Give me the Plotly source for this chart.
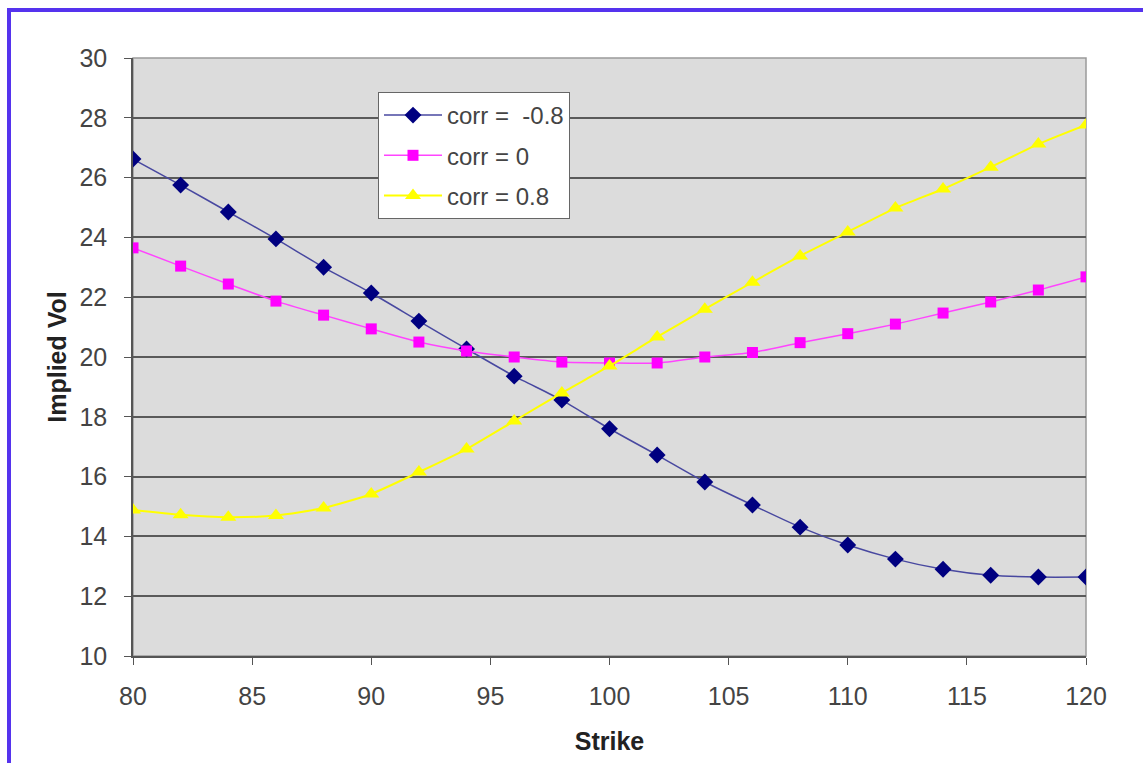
import plotly.graph_objects as go

strikes = [80, 82, 84, 86, 88, 90, 92, 94, 96, 98, 100, 102, 104, 106, 108, 110, 112, 114, 116, 118, 120]
vol_neg = [26.62, 25.75, 24.85, 23.95, 23.0, 22.14, 21.2, 20.27, 19.36, 18.56, 17.6, 16.72, 15.82, 15.05, 14.31, 13.71, 13.24, 12.9, 12.7, 12.64, 12.64]
vol_zero = [23.65, 23.04, 22.44, 21.87, 21.4, 20.94, 20.5, 20.2, 20.0, 19.83, 19.8, 19.8, 20.0, 20.15, 20.48, 20.78, 21.1, 21.47, 21.84, 22.24, 22.68]
vol_pos = [14.88, 14.72, 14.64, 14.7, 14.95, 15.42, 16.15, 16.92, 17.86, 18.8, 19.7, 20.67, 21.6, 22.5, 23.38, 24.18, 24.98, 25.62, 26.35, 27.12, 27.76]
names = ["corr =\u00a0 -0.8", "corr = 0", "corr = 0.8"]
y_ticks = [10, 12, 14, 16, 18, 20, 22, 24, 26, 28, 30]
x_ticks = [80, 85, 90, 95, 100, 105, 110, 115, 120]

fig = go.Figure()
fig.add_trace(go.Scatter(x=strikes, y=vol_neg, name=names[0], mode="lines+markers", legendgroup="a",
                         line=dict(color="#4848a0", width=1.5, shape="spline", smoothing=0.6),
                         marker=dict(symbol="diamond", size=13, color="#000080")))
fig.add_trace(go.Scatter(x=strikes, y=vol_zero, name=names[1], mode="lines+markers", legendgroup="b",
                         line=dict(color="#ff44ff", width=1.5, shape="spline", smoothing=0.6),
                         marker=dict(symbol="square", size=11, color="#ff00ff")))
fig.add_trace(go.Scatter(x=strikes, y=vol_pos, name=names[2], mode="lines+markers", legendgroup="c",
                         line=dict(color="#ffff00", width=2, shape="spline", smoothing=0.6),
                         marker=dict(symbol="triangle-up", size=14, color="#ffff00")))

W, H = 1143, 783
L, R, T, B = 133, 57, 58, 127
pw, ph = W - L - R, H - T - B

def px(x):
    return (x - L) / pw

def py(y):
    return (H - B - y) / ph

frame_color = "#5533ee"
fig.update_layout(
    width=W, height=H,
    margin=dict(l=L, r=R, t=T, b=B),
    paper_bgcolor="white",
    plot_bgcolor="#dcdcdc",
    font=dict(family="Arial, Liberation Sans, sans-serif", color="#333333", size=24),
    showlegend=True,
    legend=dict(x=px(378), y=py(92), xanchor="left", yanchor="top",
                bgcolor="white", bordercolor="#666666", borderwidth=1,
                font=dict(size=24, color="#444444"), itemwidth=58, tracegroupgap=6,
                traceorder="grouped"),
    xaxis=dict(range=[80, 120], tickvals=x_ticks, showgrid=False, zeroline=False,
               showline=True, linecolor="#555555", linewidth=1.5,
               ticks="outside", ticklen=7, tickcolor="#555555", ticklabelstandoff=10,
               tickfont=dict(size=25, color="#444444"),
               title=dict(text="<b>Strike</b>", font=dict(size=25, color="#222222"), standoff=24)),
    yaxis=dict(range=[10, 30], tickvals=y_ticks, showgrid=True, gridcolor="#5a5a5a", gridwidth=1.5,
               zeroline=False, showline=True, linecolor="#555555", linewidth=1.5,
               ticks="outside", ticklen=7, tickcolor="#555555", ticklabelstandoff=12,
               tickfont=dict(size=25, color="#444444"),
               title=dict(text="<b>Implied Vol</b>", font=dict(size=25, color="#222222"), standoff=6)),
    shapes=[
        dict(type="rect", xref="paper", yref="paper", x0=0, x1=1, y0=0, y1=1,
             line=dict(color="#9a9a9a", width=1.5), layer="below"),
        dict(type="line", xref="paper", yref="paper", x0=px(7), x1=px(1143), y0=py(10), y1=py(10),
             line=dict(color=frame_color, width=4)),
        dict(type="line", xref="paper", yref="paper", x0=px(9), x1=px(9), y0=py(8), y1=py(763),
             line=dict(color=frame_color, width=4)),
    ],
)

fig.write_html("out.html")
